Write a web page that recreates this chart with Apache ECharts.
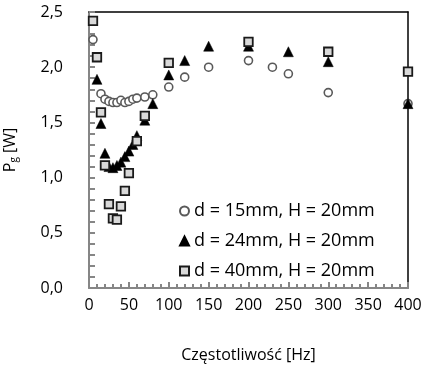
<!DOCTYPE html>
<html>
<head>
<meta charset="utf-8">
<script src="https://cdn.jsdelivr.net/npm/echarts@6/dist/echarts.min.js"></script>
<style>
  html, body { margin: 0; padding: 0; background: #fff; }
  #chart { width: 424px; height: 365px; }
</style>
</head>
<body>
<div id="chart"></div>
<script>
// d = 15mm
const freq15 = [5, 15, 20, 25, 30, 35, 40, 45, 50, 55, 60, 70, 80, 100, 120, 150, 200, 230, 250, 300, 400]
const pg15 = [2.25, 1.76, 1.71, 1.69, 1.68, 1.68, 1.70, 1.68, 1.69, 1.71, 1.72, 1.73, 1.75, 1.82, 1.91, 2.00, 2.06, 2.00, 1.94, 1.77, 1.67]
// d = 24mm
const freq24 = [10, 15, 20, 25, 30, 35, 40, 45, 50, 55, 60, 70, 80, 100, 120, 150, 200, 250, 300, 400]
const pg24 = [1.89, 1.49, 1.22, 1.10, 1.09, 1.11, 1.14, 1.19, 1.24, 1.30, 1.38, 1.52, 1.67, 1.93, 2.06, 2.19, 2.19, 2.14, 2.05, 1.67]
// d = 40mm
const freq40 = [5, 10, 15, 20, 25, 30, 35, 40, 45, 50, 60, 70, 100, 200, 300, 400]
const pg40 = [2.42, 2.09, 1.59, 1.11, 0.76, 0.63, 0.62, 0.74, 0.88, 1.04, 1.33, 1.56, 2.04, 2.23, 2.14, 1.96]

const names = ['d = 15mm, H = 20mm', 'd = 24mm, H = 20mm', 'd = 40mm, H = 20mm']

const pairs = (xs, ys) => xs.map((x, i) => [x, ys[i]])
const fontFamily = 'Open Sans'

const chart = echarts.init(document.getElementById('chart'))
chart.setOption({
  animation: false,
  textStyle: { fontFamily: fontFamily },
  grid: { left: 89, right: 16, top: 12, bottom: 77, outerBoundsMode: 'none', containLabel: false },
  legend: {
    orient: 'vertical',
    left: 174,
    top: 197,
    itemWidth: 9,
    itemHeight: 9,
    itemGap: 12,
    textStyle: { fontSize: 18, lineHeight: 18, color: '#000', fontFamily: fontFamily },
    data: names
  },
  xAxis: [{
    type: 'value',
    min: 0,
    max: 400,
    interval: 50,
    name: 'Częstotliwość [Hz]',
    nameLocation: 'middle',
    nameGap: 59,
    nameTextStyle: { fontSize: 16, color: '#000' },
    axisLine: { lineStyle: { color: '#868686', width: 2 } },
    axisTick: { inside: true, length: 6, lineStyle: { color: '#868686', width: 2 } },
    minorTick: { show: true, splitNumber: 5, length: 4, lineStyle: { color: '#868686', width: 2 } },
    axisLabel: { fontSize: 16, color: '#000', margin: 9 },
    splitLine: { show: false }
  }, {
    type: 'value',
    position: 'top',
    min: 0,
    max: 400,
    axisLine: { show: true, onZero: false, lineStyle: { color: '#000', width: 1.5 } },
    axisTick: { show: false },
    axisLabel: { show: false },
    splitLine: { show: false }
  }],
  yAxis: [{
    type: 'value',
    min: 0,
    max: 2.5,
    interval: 0.5,
    name: 'P{sub|g} [W]',
    nameLocation: 'middle',
    nameGap: 70,
    nameRotate: 90,
    nameTextStyle: {
      fontSize: 16,
      color: '#000',
      rich: { sub: { fontSize: 10, verticalAlign: 'bottom', padding: [8, 0, 0, 0] } }
    },
    axisLine: { show: true, lineStyle: { color: '#868686', width: 2 } },
    axisTick: { show: true, inside: true, length: 6, lineStyle: { color: '#868686', width: 2 } },
    minorTick: { show: true, splitNumber: 5, length: 6, lineStyle: { color: '#868686', width: 2 } },
    axisLabel: {
      fontSize: 16,
      color: '#000',
      margin: 26,
      formatter: v => v.toFixed(1).replace('.', ',')
    },
    splitLine: { show: false }
  }, {
    type: 'value',
    position: 'right',
    min: 0,
    max: 2.5,
    axisLine: { show: true, onZero: false, lineStyle: { color: '#000', width: 1.5 } },
    axisTick: { show: false },
    axisLabel: { show: false },
    splitLine: { show: false }
  }],
  series: [{
    name: names[0],
    type: 'scatter',
    symbol: 'circle',
    symbolSize: 8,
    itemStyle: { color: '#fff', borderColor: '#595959', borderWidth: 1.6, opacity: 1 },
    data: pairs(freq15, pg15)
  }, {
    name: names[1],
    type: 'scatter',
    symbol: 'triangle',
    symbolSize: 10,
    itemStyle: { color: '#000', borderColor: '#000', borderWidth: 0.5, opacity: 1 },
    data: pairs(freq24, pg24)
  }, {
    name: names[2],
    type: 'scatter',
    symbol: 'rect',
    symbolSize: 8.5,
    itemStyle: { color: '#d9d9d9', borderColor: '#1a1a1a', borderWidth: 1.8, opacity: 1 },
    data: pairs(freq40, pg40)
  }]
})
</script>
</body>
</html>
